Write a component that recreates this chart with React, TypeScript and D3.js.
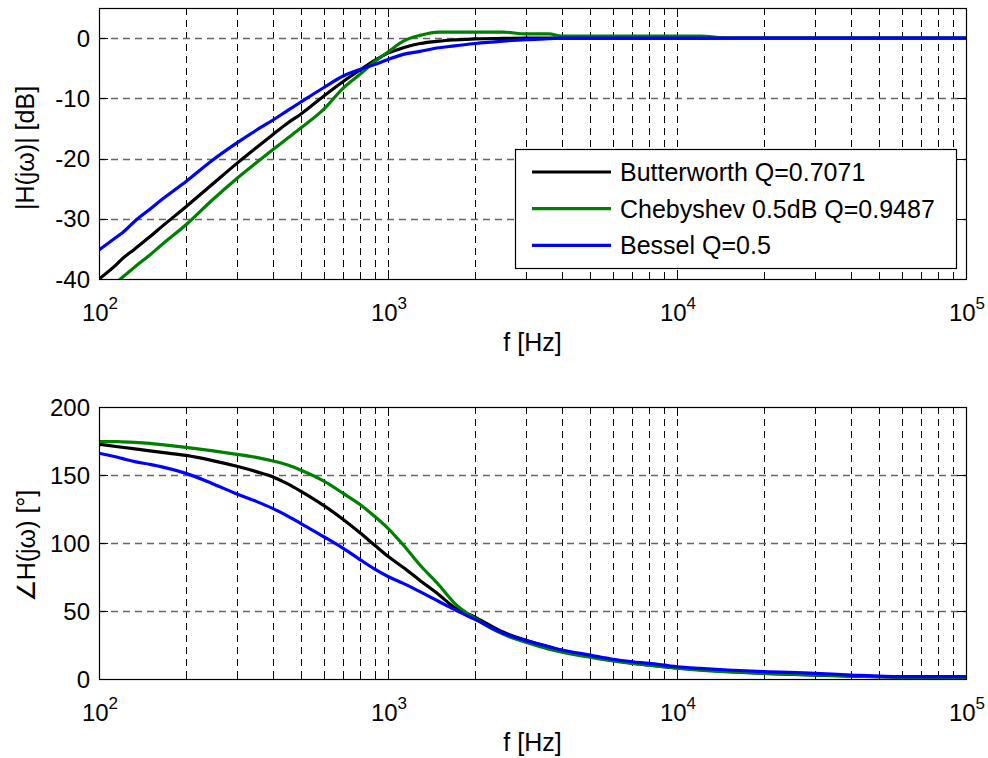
import React, { useEffect, useRef } from "react"
import * as d3 from "d3"

// frequencies in Hz
const freqs = [100, 116, 120, 133, 150, 165, 200, 245, 300, 350, 400, 450, 500, 600, 700, 800, 900, 1000, 1130, 1290, 1500, 1700, 2000, 2500, 3000, 3600, 4000, 5000, 6000, 7000, 8000, 10000, 12000, 15000, 20000, 30000, 40000, 60000, 80000, 100000]

// magnitude [dB]
const butterMag = [-40.0, -37.4, -36.7, -35.0, -33.0, -31.3, -28.0, -24.4, -20.8, -18.2, -16.0, -14.1, -12.6, -9.6, -7.2, -5.3, -3.7, -2.5, -1.6, -0.9, -0.5, -0.3, -0.12, -0.05, 0, 0, 0, 0, 0, 0, 0, 0, 0, 0, 0, 0, 0, 0, 0, 0]
const chebyMag = [-42.6, -40.4, -39.8, -38.0, -36.0, -34.3, -31.0, -27.0, -23.3, -20.7, -18.5, -16.6, -14.9, -11.8, -8.3, -6.0, -3.9, -2.3, -0.5, 0.45, 1.0, 1.0, 1.0, 1.0, 0.7, 0.7, 0.33, 0.33, 0.33, 0.33, 0.33, 0.33, 0.33, 0, 0, 0, 0, 0, 0, 0]
const besselMag = [-35.2, -32.9, -32.4, -30.4, -28.4, -26.8, -23.8, -20.4, -17.4, -15.3, -13.6, -12.0, -10.6, -8.2, -6.3, -5.2, -4.4, -3.55, -2.7, -2.2, -1.6, -1.3, -0.9, -0.5, -0.25, -0.1, 0, 0, 0, 0, 0, 0, 0, 0, 0, 0, 0, 0, 0, 0]

// phase [deg]
const butterPhase = [172.6, 170.8, 170.4, 169.2, 167.8, 166.6, 164.4, 160.8, 156.4, 152.5, 148.6, 143.5, 138, 127.5, 117.3, 107.5, 98.3, 90.2, 82, 72.5, 62, 52.5, 45.5, 34.5, 28.5, 23.5, 21, 16.5, 13.7, 11.7, 10.2, 8.2, 6.8, 5.5, 4.2, 2.8, 2.1, 1.4, 1.0, 0.8]
const chebyPhase = [174.5, 174.5, 174.4, 174, 173.2, 172.3, 170.3, 167.9, 165.2, 163, 160.3, 157.3, 153.5, 145.5, 136.5, 128.3, 119.5, 110.8, 98.5, 83.8, 69.1, 55.6, 44.6, 33, 27, 22, 19.8, 16, 13.3, 11.5, 10.2, 7.9, 6.5, 5.2, 4.2, 3, 2.3, 1.2, 0.9, 0.7]
const besselPhase = [166, 163, 162.2, 159.8, 157.8, 156, 151.2, 144, 136, 130.6, 125.3, 119.8, 114.2, 104.6, 96.1, 87.8, 80.8, 75.4, 70.3, 64.2, 57, 51, 43.8, 33.6, 28.2, 23.8, 21.3, 17.6, 14.5, 12.7, 11.5, 9, 7.8, 6.6, 5.4, 4.2, 2.9, 1.7, 1.7, 1.7]

const seriesNames = ["Butterworth Q=0.7071", "Chebyshev 0.5dB Q=0.9487", "Bessel Q=0.5"]
const magTicks = [-40, -30, -20, -10, 0]
const phaseTicks = [0, 50, 100, 150, 200]
const decades = [100, 1000, 10000, 100000]
const decadeExp = ["2", "3", "4", "5"]

const colors = ["#000000", "#008000", "#0000ff"]
const FONT = "'Liberation Sans', Arial, Helvetica, sans-serif"
const W = 988
const H = 758
const LEFT = 99
const RIGHT = 966

function drawPanel(svg, id, top, bottom, yDomain, yTicks, series, yLabel, yLabelPos) {
	const x = d3.scaleLog().domain([100, 100000]).range([LEFT, RIGHT])
	const y = d3.scaleLinear().domain(yDomain).range([bottom, top])

	const minors = []
	for (let i = 0; i < decades.length - 1; i++) {
		for (let k = 2; k <= 9; k++) minors.push(decades[i] * k)
	}
	const gridX = minors.concat([1000, 10000])

	const g = svg.append("g")

	g.append("clipPath").attr("id", id).append("rect")
		.attr("x", LEFT).attr("y", top).attr("width", RIGHT - LEFT).attr("height", bottom - top)

	// grid
	g.selectAll("line.vg").data(gridX).enter().append("line")
		.attr("x1", d => Math.round(x(d)) + 0.5).attr("x2", d => Math.round(x(d)) + 0.5)
		.attr("y1", top).attr("y2", bottom)
		.attr("stroke", "#000").attr("stroke-dasharray", "7,5")
	g.selectAll("line.hg").data(yTicks.filter(d => d > yDomain[0] && d < yDomain[1])).enter().append("line")
		.attr("x1", LEFT).attr("x2", RIGHT)
		.attr("y1", d => Math.round(y(d)) + 0.5).attr("y2", d => Math.round(y(d)) + 0.5)
		.attr("stroke", "#666").attr("stroke-width", 1.3).attr("stroke-dasharray", "7,5")

	// ticks, inside on all four sides
	const tk = g.append("g").attr("stroke", "#000")
	yTicks.forEach(v => {
		const yy = Math.round(y(v)) + 0.5
		tk.append("line").attr("x1", LEFT).attr("x2", LEFT + 9).attr("y1", yy).attr("y2", yy)
		tk.append("line").attr("x1", RIGHT - 9).attr("x2", RIGHT).attr("y1", yy).attr("y2", yy)
	})
	decades.concat(minors).forEach((f, i) => {
		const len = i < decades.length ? 9 : 5
		const xx = Math.round(x(f)) + 0.5
		tk.append("line").attr("x1", xx).attr("x2", xx).attr("y1", bottom).attr("y2", bottom - len)
		tk.append("line").attr("x1", xx).attr("x2", xx).attr("y1", top).attr("y2", top + len)
	})

	// curves
	const line = d3.line().x(d => x(d[0])).y(d => y(d[1])).curve(d3.curveMonotoneX)
	const lines = g.append("g").attr("clip-path", `url(#${id})`)
	series.forEach((vals, i) => {
		lines.append("path")
			.datum(freqs.map((f, j) => [f, vals[j]]))
			.attr("d", line)
			.attr("fill", "none")
			.attr("stroke", colors[i])
			.attr("stroke-width", 3.2)
			.attr("stroke-linejoin", "round")
	})

	// box
	g.append("rect")
		.attr("x", LEFT + 0.5).attr("y", top + 0.5)
		.attr("width", RIGHT - LEFT).attr("height", bottom - top)
		.attr("fill", "none").attr("stroke", "#000").attr("stroke-width", 1.2)

	// tick labels
	g.selectAll("text.yt").data(yTicks).enter().append("text")
		.attr("x", 90).attr("y", d => y(d) + 8.5)
		.attr("text-anchor", "end")
		.attr("font-family", FONT).attr("font-size", 24)
		.text(d => d)

	decades.forEach((f, i) => {
		const t = g.append("text")
			.attr("x", x(f) + 1).attr("y", bottom + 42)
			.attr("text-anchor", "middle")
			.attr("font-family", FONT).attr("font-size", 24)
		t.append("tspan").text("10")
		t.append("tspan").attr("dy", -12).attr("font-size", 17).text(decadeExp[i])
	})

	g.append("text")
		.attr("x", (LEFT + RIGHT) / 2).attr("y", bottom + 72)
		.attr("text-anchor", "middle")
		.attr("font-family", FONT).attr("font-size", 25)
		.text("f [Hz]")

	g.append("text")
		.attr("transform", `translate(${yLabelPos[0]},${yLabelPos[1]}) rotate(-90)`)
		.attr("text-anchor", "middle")
		.attr("font-family", FONT).attr("font-size", 25)
		.text(yLabel)

	return { x, y }
}

export default function App() {
	const ref = useRef(null)

	useEffect(() => {
		const svg = d3.select(ref.current)
		svg.selectAll("*").remove()

		svg.append("rect").attr("width", W).attr("height", H).attr("fill", "#fff")

		drawPanel(svg, "clipMag", 8, 279, [-40, 5], magTicks, [butterMag, chebyMag, besselMag], "|H(jω)| [dB]", [34, 148])
		drawPanel(svg, "clipPh", 407, 679, [0, 200], phaseTicks, [butterPhase, chebyPhase, besselPhase], "∠H(jω) [°]", [35, 546])

		// legend
		const lg = svg.append("g")
		lg.append("rect")
			.attr("x", 515.5).attr("y", 149.5).attr("width", 441).attr("height", 119)
			.attr("fill", "#fff").attr("stroke", "#000").attr("stroke-width", 1.2)
		seriesNames.forEach((name, i) => {
			const yy = 172 + i * 36.7
			lg.append("line")
				.attr("x1", 532).attr("x2", 611).attr("y1", yy).attr("y2", yy)
				.attr("stroke", colors[i]).attr("stroke-width", 3.2)
			lg.append("text")
				.attr("x", 620).attr("y", yy + 9)
				.attr("font-family", FONT).attr("font-size", 25)
				.text(name)
		})
	}, [])

	return (
		<svg ref={ref} width={W} height={H} style={{ position: "absolute", left: 0, top: 0, display: "block" }} />
	)
}
